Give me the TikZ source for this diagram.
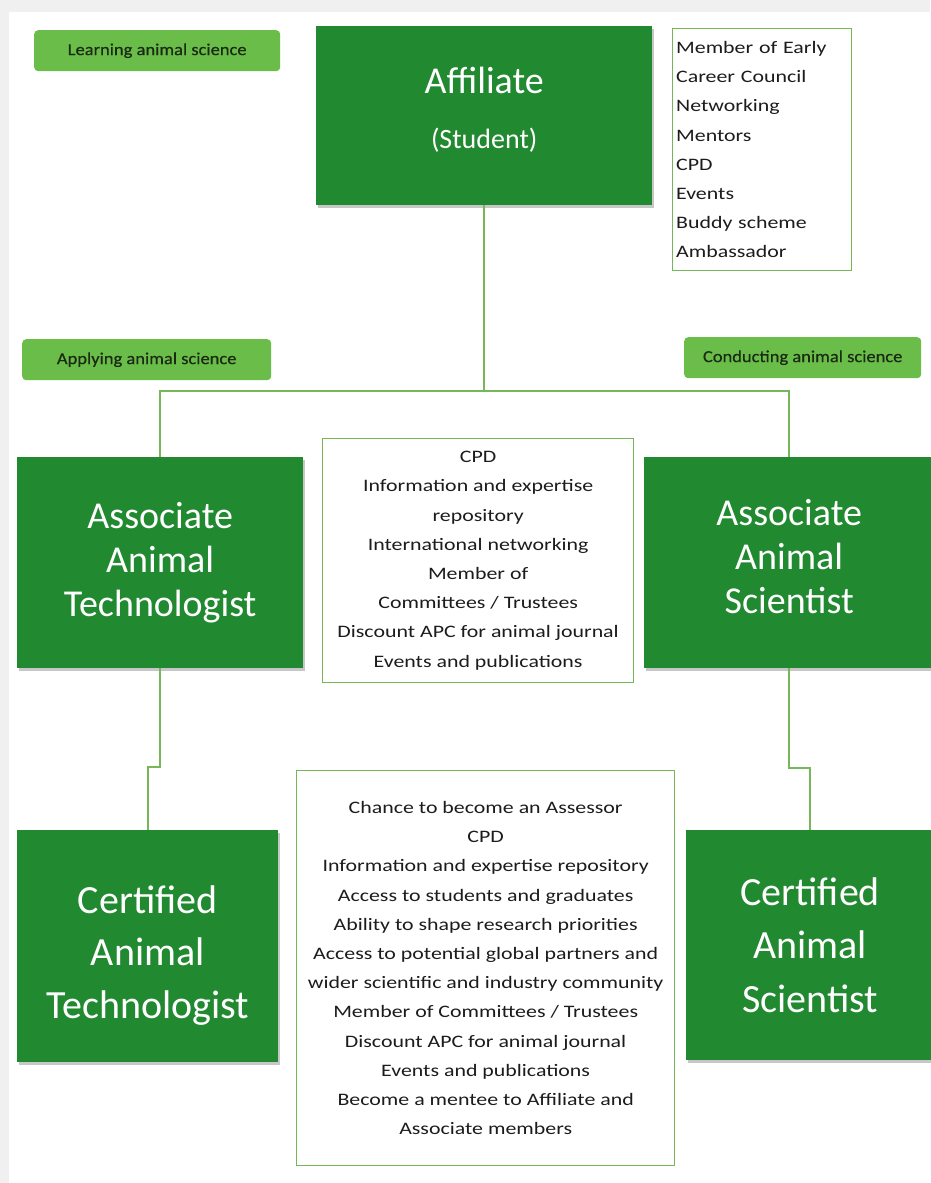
\documentclass[tikz,border=0pt]{standalone}
\usepackage{fontspec}
\setmainfont{Carlito}
\newfontfamily\listf[FakeStretch=1.25]{Carlito}
\newfontfamily\tagf[FakeStretch=1.1,FakeBold=0.4]{Carlito}
\usetikzlibrary{shadows}
\definecolor{dgreen}{RGB}{33,137,48}
\definecolor{lgreen}{RGB}{106,189,72}
\definecolor{bgreen}{RGB}{117,182,85}
\definecolor{cgreen}{RGB}{118,184,88}
\definecolor{ink}{RGB}{28,28,28}
\definecolor{tagink}{RGB}{26,42,20}
\begin{document}
\begin{tikzpicture}[x=1pt,y=-1pt,
  darkbox/.style={fill=dgreen,draw=none,text=white,align=center,anchor=north west,inner sep=0pt,
    drop shadow={shadow xshift=2pt,shadow yshift=-3pt,fill=black,opacity=0.22}},
  listbox/.style={fill=white,draw=bgreen,line width=1.3pt,text=ink,anchor=north west,inner sep=0pt,
    font=\listf\fontsize{17.5}{29.2}\selectfont},
  tagbox/.style={fill=lgreen,rounded corners=4pt,anchor=north west,inner sep=0pt,text=tagink,
    font=\tagf\fontsize{16.8}{18}\selectfont},
  conn/.style={draw=cgreen,line width=2pt}
]
\useasboundingbox (0,0) rectangle (930,1183);
\fill[black!6] (0,0) rectangle (930,1183);
\fill[white] (9,12) rectangle (930,1183);

% tags
\node[tagbox,minimum width=246pt,minimum height=41pt] (tag1) at (34,30) {Learning animal science};
\node[tagbox,minimum width=249pt,minimum height=41pt] (tag2) at (22,339) {Applying animal science};
\node[tagbox,minimum width=237pt,minimum height=41pt] (tag3) at (684,337) {Conducting animal science};

% main boxes
\node[darkbox,minimum width=336pt,minimum height=179pt,font=\fontsize{28}{55}\selectfont] (aff) at (316,26)
  {{\fontsize{38}{44}\selectfont Affiliate}\\(Student)\rule[-15pt]{0pt}{1pt}};
\node[listbox,minimum width=179pt,minimum height=242pt,align=left,text width=172pt] (perks) at (672,28)
  {Member of Early\\Career Council\\Networking\\Mentors\\CPD\\Events\\Buddy scheme\\Ambassador};

\node[darkbox,minimum width=286pt,minimum height=211pt,font=\fontsize{38}{44}\selectfont] (aat) at (17,457)
  {Associate\\Animal\\Technologist};
\node[listbox,minimum width=311pt,minimum height=244pt,align=center] (mid1) at (322,438)
  {CPD\\Information and expertise\\repository\\International networking\\Member of\\Committees / Trustees\\Discount APC for animal journal\\Events and publications};
\node[darkbox,minimum width=290pt,minimum height=211pt,font=\fontsize{38}{44}\selectfont] (aas) at (644,457)
  {Associate\\Animal\\Scientist\rule[-12pt]{0pt}{1pt}};

\node[darkbox,minimum width=261pt,minimum height=232pt,font=\fontsize{40}{52.5}\selectfont] (cat) at (17,830)
  {\rule{0pt}{46pt}Certified\\Animal\\Technologist};
\node[listbox,minimum width=378pt,minimum height=395pt,align=center] (mid2) at (296,770)
  {Chance to become an Assessor\\CPD\\Information and expertise repository\\Access to students and graduates\\Ability to shape research priorities\\Access to potential global partners and\\wider scientific and industry community\\Member of Committees / Trustees\\Discount APC for animal journal\\Events and publications\\Become a mentee to Affiliate and\\Associate members};
\node[darkbox,minimum width=248pt,minimum height=230pt,font=\fontsize{40}{53.5}\selectfont] (cas) at (686,830)
  {Certified\\Animal\\Scientist};

% connectors
\coordinate (jn) at (485,391);
\coordinate (k1) at (0,767);
\coordinate (k2) at (0,768);
\draw[conn] (aff.south) -- (aff.south |- jn);
\draw[conn] (aat.north) |- (jn) -| (aas.north);
\draw[conn] (aat.south) -- (aat.south |- k1) -| (cat.north);
\draw[conn] (aas.south) -- (aas.south |- k2) -| (cas.north);
\end{tikzpicture}
\end{document}
